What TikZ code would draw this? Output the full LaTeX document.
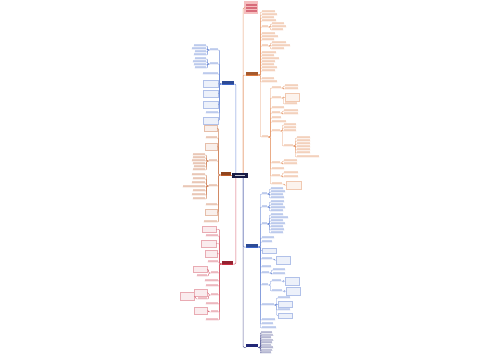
\documentclass[tikz,border=0pt]{standalone}
\definecolor{orng}{RGB}{221,120,60}
\definecolor{orng2}{RGB}{192,92,40}
\definecolor{blu}{RGB}{60,100,200}
\definecolor{rd}{RGB}{200,45,65}
\definecolor{navy}{RGB}{35,40,120}
\definecolor{rootc}{RGB}{25,28,70}
\definecolor{pinkc}{RGB}{245,190,190}
\tikzset{
  lf/.style={anchor=south west, inner sep=0pt, minimum height=1.8, fill=#1!28},
  bx/.style={anchor=north west, inner sep=0pt, draw=#1!40, fill=#1!9, line width=.3pt},
  lk/.style={draw=#1!75, line width=.3pt, rounded corners=1pt},
  br/.style={inner sep=0pt, minimum height=2.4, fill=#1!75!black},
}
% leaves hanging off a parent, right or left of it
\newcommand{\rkids}[4]{%
  \foreach \yy/\ww [count=\k] in {#4}{%
    \node[lf=#2, minimum width=\ww] (#1-\k) at (#3,\yy) {};
    \draw[lk=#2] (#1.south east) -- ++(2,0) |- (#1-\k.south west) -- (#1-\k.south east);
  }}
\newcommand{\lkids}[4]{%
  \foreach \yy/\ww [count=\k] in {#4}{%
    \node[lf=#2, anchor=south east, minimum width=\ww] (#1-\k) at (#3,\yy) {};
    \draw[lk=#2] (#1.south west) -- ++(-2,0) |- (#1-\k.south east) -- (#1-\k.south west);
  }}
\newcommand{\rsub}[6]{%
  \node[lf=#3, minimum width=#6] (#1) at (#4,#5) {};
  \draw[lk=#3] (#2.south east) -- ++(2,0) |- (#1.south west) -- (#1.south east);}
\newcommand{\lsub}[6]{%
  \node[lf=#3, anchor=south east, minimum width=#6] (#1) at (#4,#5) {};
  \draw[lk=#3] (#2.south west) -- ++(-2,0) |- (#1.south east) -- (#1.south west);}
\newcommand{\rbox}[7]{%
  \node[bx=#3, minimum width=#6, minimum height=#7] (#1) at (#4,#5) {};
  \draw[lk=#3] (#2.south east) -- ++(2,0) |- (#1.west);}
\newcommand{\lbox}[7]{%
  \node[bx=#3, anchor=north east, minimum width=#6, minimum height=#7] (#1) at (#4,#5) {};
  \draw[lk=#3] (#2.south west) -- ++(-2,0) |- (#1.east);}
\newcommand{\branch}[6]{%
  \node[br=#2, anchor=#6, minimum width=#5] (#1) at (#3,#4) {};
  \draw[#2, line width=.9pt] (#1.south west) -- (#1.south east);}
\begin{document}
\begin{tikzpicture}[x=1pt, y=-1pt]
\useasboundingbox (0,0) rectangle (500,360);

\node[fill=rootc, inner sep=0pt, minimum width=16, minimum height=5,
  path picture={\fill[white!75!rootc] ([xshift=3pt,yshift=-.6pt]path picture bounding box.west) rectangle ([xshift=-3pt,yshift=.6pt]path picture bounding box.east);}] (root) at (240,175.5) {};
\node[anchor=north west, inner sep=0pt, minimum width=14, minimum height=13, fill=pinkc,
  path picture={\foreach \t in {3,6,9} \fill[rd!70] ([xshift=1.5pt,yshift=-\t pt]path picture bounding box.north west) rectangle ++(11pt,-1.6pt);}] (title) at (244,1) {};

% orange, upper right
\branch{A}{orng}{246}{75}{12}{south west}
\rkids{A}{orng}{262}{12/13, 15/15, 18/12, 21/14, 34/13, 37/16, 40/12, 53/14, 56/12, 59/17, 62/13, 65/12, 68/15, 71/13, 79/12, 82/15}
\rsub{a1}{A}{orng}{262}{27}{6}
\rkids{a1}{orng}{272}{24/12, 27/14, 30/11}
\rsub{a2}{A}{orng}{262}{46}{6}
\rkids{a2}{orng}{272}{43/14, 46/18, 49/12}
\rsub{B}{A}{orng}{262}{137}{6}
\rsub{b1}{B}{orng}{272}{88}{9}
\rkids{b1}{orng}{285}{86/13, 89/13}
\rsub{b2}{B}{orng}{272}{98}{9}
\rbox{b2x}{b2}{orng}{285}{93}{14}{8}
\rkids{b2}{orng}{285}{104/12}
\rkids{B}{orng}{272}{108/12, 118/9, 122/14, 169/12}
\rsub{b3}{B}{orng}{272}{113}{8}
\rkids{b3}{orng}{284}{111/14, 114/14}
\rsub{b4}{B}{orng}{272}{131}{8}
\rkids{b4}{orng}{284}{125/12, 128/12, 131/12}
\rsub{b4s}{b4}{orng}{284}{146}{9}
\rkids{b4s}{orng}{297}{138/13, 141/13, 144/13, 147/13, 150/13, 153/13, 157/22}
\rsub{b5}{B}{orng}{272}{163}{8}
\rkids{b5}{orng}{284}{161/13, 164/13}
\rsub{b6}{B}{orng}{272}{176}{8}
\rkids{b6}{orng}{284}{173/14, 177/14}
\rsub{b7}{B}{orng}{272}{184}{10}
\rbox{b7x}{b7}{orng}{286}{181}{15}{8}

% blue, lower right
\branch{RB}{blu}{246}{247}{12}{south west}
\rsub{r1}{RB}{blu}{262}{194}{5}
\rkids{r1}{blu}{271}{189/12, 192/14, 195/12, 198/13}
\rsub{r2}{RB}{blu}{262}{207}{5}
\rkids{r2}{blu}{271}{202/13, 205/12, 208/14, 211/12}
\rsub{r3}{RB}{blu}{262}{224}{5}
\rkids{r3}{blu}{271}{215/12, 218/17, 221/12, 224/14, 227/12, 230/13, 233/12}
\rkids{RB}{blu}{262}{238/12, 242/10, 267/9, 320/13, 324/11, 328/14}
\rbox{rbx}{RB}{blu}{262}{248}{14}{5}
\rsub{r4}{RB}{blu}{262}{259}{10}
\rbox{r4x}{r4}{blu}{276}{256}{14}{8}
\rsub{r5}{RB}{blu}{262}{273}{7}
\rkids{r5}{blu}{273}{270/12, 274/12}
\rsub{r6}{RB}{blu}{262}{285}{6}
\rsub{r6a}{r6}{blu}{272}{281}{9}
\rbox{r6ax}{r6a}{blu}{285}{277}{14}{8}
\rsub{r6b}{r6}{blu}{272}{291}{10}
\rbox{r6bx}{r6b}{blu}{286}{287}{14}{8}
\rsub{r7}{RB}{blu}{262}{305}{12}
\rkids{r7}{blu}{278}{298/12, 310/12}
\rbox{r7x}{r7}{blu}{278}{301}{14}{6}
\rbox{r7y}{r7}{blu}{278}{313}{14}{5}

% navy, bottom
\node[fill=navy, inner sep=0pt, minimum width=12, minimum height=3, anchor=south west] (RN) at (246,347.5) {};
\rkids{RN}{navy}{261}{333/11, 335.5/12, 338/10, 340.5/12, 343/11, 345.5/10, 348/12, 350.5/11, 353/10}

% blue, upper left
\branch{LB}{blu}{234}{84}{12}{south east}
\lsub{l1}{LB}{blu}{218}{50}{8}
\lkids{l1}{blu}{206}{46/12, 49/14, 52/11, 55/12}
\lsub{l2}{LB}{blu}{218}{64}{8}
\lkids{l2}{blu}{206}{59/11, 62/13, 65/12, 68/11}
\lkids{LB}{blu}{218}{74/15, 113/12}
\lbox{lbx1}{LB}{blu}{218}{80}{15}{7}
\lbox{lbx2}{LB}{blu}{218}{90}{15}{7}
\lbox{lbx3}{LB}{blu}{218}{101}{15}{7}
\lbox{lbx4}{LB}{blu}{218}{117}{15}{7}

% orange, left
\branch{LO}{orng2}{231}{175}{10}{south east}
\lbox{lox1}{LO}{orng2}{217}{125}{13}{6}
\lkids{LO}{orng2}{217}{138/11, 205/11, 222/13}
\lbox{lox2}{LO}{orng2}{217}{143}{12}{7}
\lsub{lo1}{LO}{orng2}{217}{161}{8}
\lkids{lo1}{orng2}{205}{155/12, 158/12, 161/13, 164/12, 167/11, 170/12}
\lsub{lo2}{LO}{orng2}{217}{186}{8}
\lkids{lo2}{orng2}{205}{175/13, 179/12, 183/13, 187/22, 191/12, 195/13, 199/12}
\lbox{lox3}{LO}{orng2}{217}{209}{12}{6}

% red, lower left
\branch{LR}{rd}{233}{264}{11}{south east}
\lbox{lrx1}{LR}{rd}{216}{226}{14}{6}
\lkids{LR}{rd}{218}{236/12, 262/10, 281/13, 286/12, 304/12, 320/12}
\lbox{lrx2}{LR}{rd}{216}{240}{15}{7}
\lbox{lrx3}{LR}{rd}{217}{250}{12}{7}
\lsub{lr1}{LR}{rd}{218}{273}{7}
\lbox{lr1x}{lr1}{rd}{207}{266}{14}{6}
\lkids{lr1}{rd}{207}{276/10}
\lsub{lr2}{LR}{rd}{218}{295}{7}
\lbox{lr2x}{lr2}{rd}{207}{289}{13}{7}
\lsub{lr2s}{lr2}{rd}{207}{299}{9}
\lbox{lr2sx}{lr2s}{rd}{194}{292}{14}{8}
\lsub{lr3}{LR}{rd}{218}{312}{7}
\lbox{lr3x}{lr3}{rd}{207}{307}{13}{7}

% trunk
\draw[lk=orng, line width=.5pt] (root.north east) ++(-5,0) |- (title.west);
\draw[lk=orng, line width=.5pt] (root.north east) ++(-5,0) |- (A.south west);
\draw[lk=blu, line width=.5pt] (root.south east) ++(-5,0) |- (RB.south west);
\draw[lk=navy, line width=.5pt] (root.south east) ++(-5,0) |- (RN.south west);
\draw[lk=blu, line width=.5pt] (root.north west) ++(4,0) |- (LB.south east);
\draw[lk=orng2, line width=.5pt] (LO.south east) -- (LO.south east -| root.west);
\draw[lk=rd, line width=.5pt] (root.south west) ++(4,0) |- (LR.south east);
\end{tikzpicture}
\end{document}
